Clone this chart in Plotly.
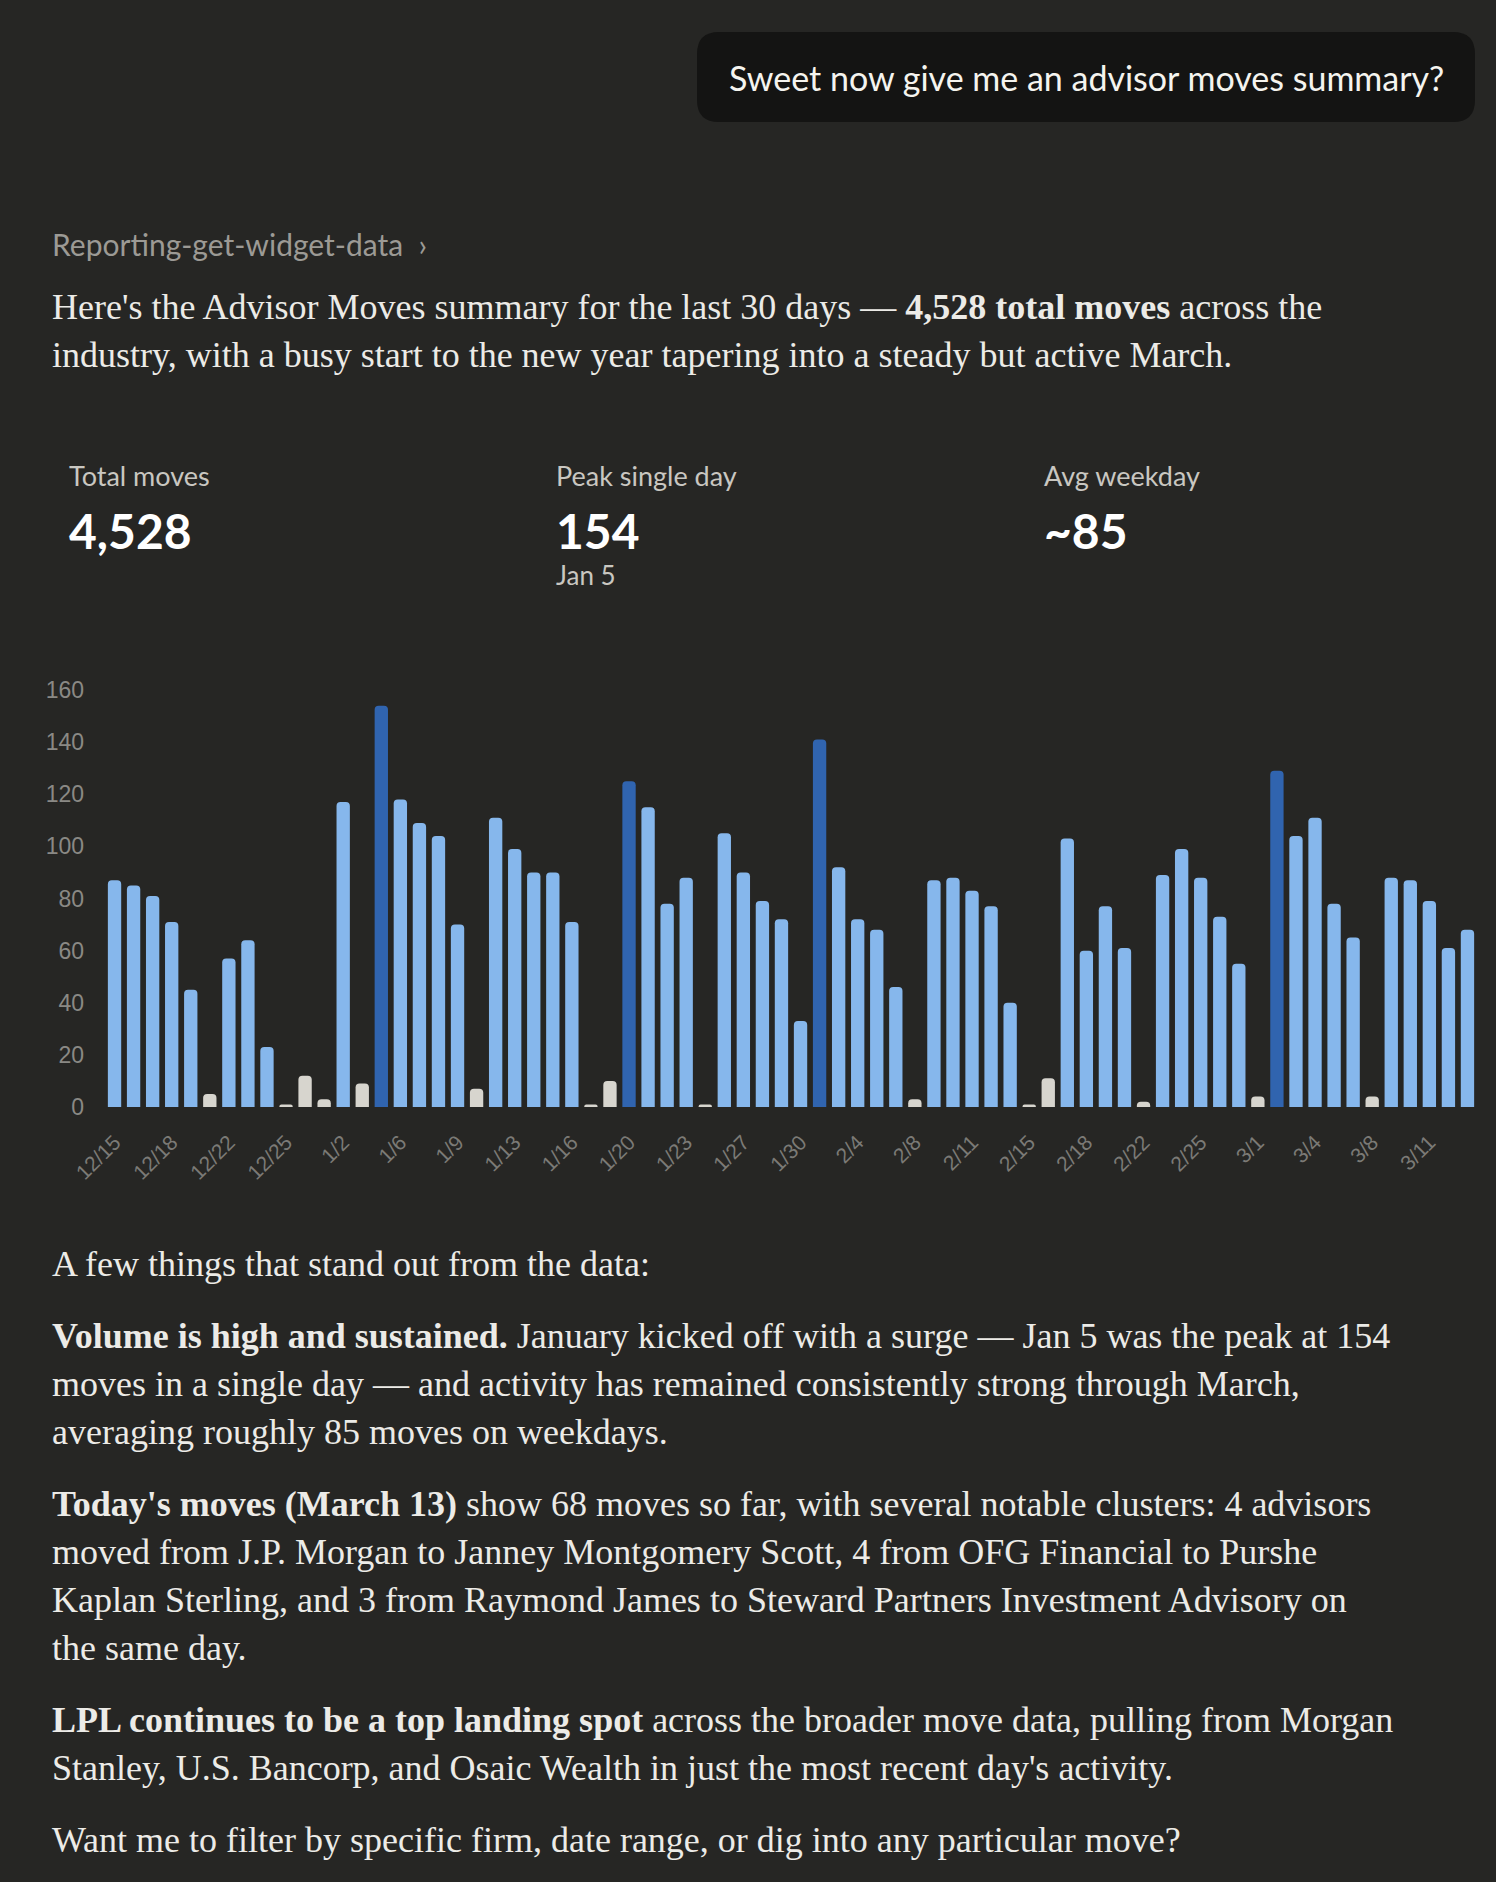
import plotly.graph_objects as go

# ---------------- data ----------------
dates = ["12/15", "12/16", "12/17", "12/18", "12/19", "12/21", "12/22", "12/23", "12/24", "12/25",
         "12/28", "1/1", "1/2", "1/4", "1/5", "1/6", "1/7", "1/8", "1/9", "1/11",
         "1/12", "1/13", "1/14", "1/15", "1/16", "1/18", "1/19", "1/20", "1/21", "1/22",
         "1/23", "1/25", "1/26", "1/27", "1/28", "1/29", "1/30", "2/2", "2/3", "2/4",
         "2/5", "2/6", "2/8", "2/9", "2/10", "2/11", "2/12", "2/13", "2/15", "2/16",
         "2/17", "2/18", "2/19", "2/20", "2/22", "2/23", "2/24", "2/25", "2/26", "2/27",
         "3/1", "3/2", "3/3", "3/4", "3/5", "3/6", "3/8", "3/9", "3/10", "3/11",
         "3/12", "3/13"]
moves = [87, 85, 81, 71, 45, 5, 57, 64, 23, 1,
         12, 3, 117, 9, 154, 118, 109, 104, 70, 7,
         111, 99, 90, 90, 71, 1, 10, 125, 115, 78,
         88, 1, 105, 90, 79, 72, 33, 141, 92, 72,
         68, 46, 3, 87, 88, 83, 77, 40, 1, 11,
         103, 60, 77, 61, 2, 89, 99, 88, 73, 55,
         4, 129, 104, 111, 78, 65, 4, 88, 87, 79,
         61, 68]
day_type = ["w", "w", "w", "w", "w", "o", "w", "w", "w", "o",
            "o", "o", "w", "o", "p", "w", "w", "w", "w", "o",
            "w", "w", "w", "w", "w", "o", "o", "p", "w", "w",
            "w", "o", "w", "w", "w", "w", "w", "p", "w", "w",
            "w", "w", "o", "w", "w", "w", "w", "w", "o", "o",
            "w", "w", "w", "w", "o", "w", "w", "w", "w", "w",
            "o", "p", "w", "w", "w", "w", "o", "w", "w", "w",
            "w", "w"]
tick_labels = dates[::3]
y_ticks = [0, 20, 40, 60, 80, 100, 120, 140, 160]

kpi_labels = ["Total moves", "Peak single day", "Avg weekday"]
kpi_values = ["4,528", "154", "~85"]
kpi_notes = ["", "Jan 5", ""]

# ---------------- styling ----------------
W, H = 1496, 1882
BG = "#262624"
L, R, T, B = 105, W - 1477, 690, H - 1107
PW, PH = W - L - R, H - T - B
COLORS = {"w": "#86B7EC", "p": "#3064AF", "o": "#D7D5CE"}
SERIF = "Liberation Serif, Times New Roman, serif"
SANS_N = "Lato, sans-serif"
SANS = "Liberation Sans, Arial, sans-serif"
TXT = "#ECEBE7"


def px(x):
    return (x - L) / PW


def py(y):
    return (H - B - y) / PH


fig = go.Figure()
fig.add_trace(go.Bar(
    x=dates, y=moves,
    marker=dict(color=[COLORS[t] for t in day_type], cornerradius=4, line=dict(width=0)),
    hoverinfo="x+y",
))

annotations = []


def text(x, y, s, size, color=TXT, family=SERIF, anchor="left"):
    annotations.append(dict(
        x=px(x), y=py(y), xref="paper", yref="paper", text=s, showarrow=False,
        xanchor=anchor, yanchor="middle", align="left", borderpad=0,
        font=dict(size=size, color=color, family=family),
    ))


# user bubble
bx0, bx1, by0, by1, rr = 697, 1475, 32, 122, 22
rx, ry = rr / PW, rr / PH
X0, X1, Y0, Y1 = px(bx0), px(bx1), py(by1), py(by0)
path = (f"M {X0+rx},{Y0} L {X1-rx},{Y0} Q {X1},{Y0} {X1},{Y0+ry} L {X1},{Y1-ry} "
        f"Q {X1},{Y1} {X1-rx},{Y1} L {X0+rx},{Y1} Q {X0},{Y1} {X0},{Y1-ry} "
        f"L {X0},{Y0+ry} Q {X0},{Y0} {X0+rx},{Y0} Z")
fig.add_shape(type="path", path=path, xref="paper", yref="paper",
              fillcolor="#141413", line=dict(width=0), layer="below")
text((bx0 + bx1) / 2, 78, "Sweet now give me an advisor moves summary?", 34,
     color="#F5F4EF", family=SANS_N, anchor="center")

text(51, 244, "Reporting-get-widget-data  \u203a", 30, color="#9C9A95", family=SANS_N)

body = 36
text(51, 307, "Here's the Advisor Moves summary for the last 30 days \u2014 <b>4,528 total moves</b> across the", body)
text(51, 355, "industry, with a busy start to the new year tapering into a steady but active March.", body)

kx = [68, 555, 1043]
for i in range(3):
    text(kx[i], 475, kpi_labels[i], 27, color="#C9C7C1", family=SANS_N)
    text(kx[i], 530, "<b>" + kpi_values[i] + "</b>", 48, color="#FFFFFF", family=SANS_N)
    if kpi_notes[i]:
        text(kx[i], 575, kpi_notes[i], 26, color="#C9C7C1", family=SANS_N)

lines = [
    (1264, "A few things that stand out from the data:"),
    (1336, "<b>Volume is high and sustained.</b> January kicked off with a surge \u2014 Jan 5 was the peak at 154"),
    (1384, "moves in a single day \u2014 and activity has remained consistently strong through March,"),
    (1432, "averaging roughly 85 moves on weekdays."),
    (1504, "<b>Today's moves (March 13)</b> show 68 moves so far, with several notable clusters: 4 advisors"),
    (1552, "moved from J.P. Morgan to Janney Montgomery Scott, 4 from OFG Financial to Purshe"),
    (1600, "Kaplan Sterling, and 3 from Raymond James to Steward Partners Investment Advisory on"),
    (1648, "the same day."),
    (1720, "<b>LPL continues to be a top landing spot</b> across the broader move data, pulling from Morgan"),
    (1768, "Stanley, U.S. Bancorp, and Osaic Wealth in just the most recent day's activity."),
    (1840, "Want me to filter by specific firm, date range, or dig into any particular move?"),
]
for yy, s in lines:
    text(51, yy, s, body)

fig.update_layout(
    width=W, height=H, autosize=False,
    margin=dict(l=L, r=R, t=T, b=B, pad=0),
    paper_bgcolor=BG, plot_bgcolor=BG,
    showlegend=False, bargap=0.3,
    annotations=annotations,
    xaxis=dict(type="category", tickmode="array", tickvals=tick_labels, ticktext=tick_labels,
               tickangle=-45, tickfont=dict(family=SANS, size=21, color="#7B7A76"),
               showgrid=False, zeroline=False, showline=False, ticks="",
               ticklabelstandoff=18, range=[-0.5, len(dates) - 0.5]),
    yaxis=dict(range=[0, 160], tickmode="array", tickvals=y_ticks,
               tickfont=dict(family=SANS, size=23, color="#8A8985"),
               showgrid=False, zeroline=False, showline=False, ticks="",
               ticklabelstandoff=20),
)

fig.write_html("out.html", config={"displayModeBar": False},
               post_script="document.body.style.margin='0';document.body.style.background='%s';" % BG)
